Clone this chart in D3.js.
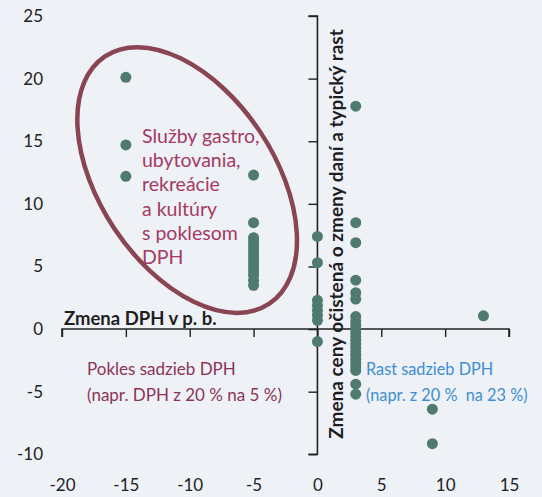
<!DOCTYPE html>
<meta charset="utf-8">
<html>
<script src="https://d3js.org/d3.v7.min.js"></script>
<style>
    body { margin: 0; background-color: #eef1f6; }
    svg text { font-family: "Lato", "Open Sans", sans-serif; }
</style>
<body>
<svg id="chart"></svg>
<script>
    // ---------------- data ----------------
    const xTicks = [-20, -15, -10, -5, 0, 5, 10, 15];
    const yTicks = [-10, -5, 0, 5, 10, 15, 20, 25];

    // VAT change (p.p.) for each column of dots
    const vatChange = [-15, -5, 0, 3, 9, 13];
    // price change for each column
    const ptsM15 = [20.1, 14.7, 12.2];
    const ptsM5 = [12.3, 8.5, 7.3, 7.0, 6.7, 6.4, 6.1, 5.8, 5.5, 5.2, 4.9, 4.6, 4.3, 3.9, 3.5];
    const pts0 = [7.4, 5.3, 2.3, 1.9, 1.5, 1.1, 0.7, -1.0];
    const pts3 = [17.8, 8.5, 6.9, 3.9, 2.9, 2.4, 1.0, 0.6, 0.3, 0.0, -0.3, -0.6, -0.9, -1.2,
                  -1.5, -1.8, -2.1, -2.4, -2.7, -3.0, -3.3, -4.4, -5.2];
    const pts9 = [-6.4, -9.15];
    const pts13 = [1.06];
    const priceChange = [ptsM15, ptsM5, pts0, pts3, pts9, pts13];

    const xTitle = "Zmena DPH v p. b.";
    const yTitle = "Zmena ceny očistená o zmeny daní a typický rast";
    const groupLabel = ["Služby gastro,", "ubytovania,", "rekreácie", "a kultúry", "s poklesom", "DPH"];
    const downLabel = ["Pokles sadzieb DPH", "(napr. DPH z 20 % na 5 %)"];
    const upLabel = ["Rast sadzieb DPH", "(napr. z 20 %  na 23 %)"];

    // flatten to points
    let points = [];
    vatChange.forEach((v, i) => priceChange[i].forEach(p => points.push({ x: v, y: p })));

    //dimensions
    let width = 542, height = 497;

    let svg = d3.select("#chart")
        .attr("width", width)
        .attr("height", height);

    svg.append("rect").attr("width", width).attr("height", height).attr("fill", "#eef1f6");

    let x = d3.scaleLinear().domain([-20, 15]).range([62, 509]);
    let y = d3.scaleLinear().domain([-10, 25]).range([454.3, 16]);

    // ellipse round the hospitality group
    svg.append("g")
        .attr("transform", `translate(${x(-10.2)},${y(11.9)}) rotate(56.4)`)
        .append("ellipse")
            .attr("rx", 148.5)
            .attr("ry", 87.5)
            .attr("fill", "none")
            .attr("stroke", "#8a4553")
            .attr("stroke-width", 4.5);

    // x axis through zero (ticks pointing down)
    let gx = svg.append("g")
        .attr("transform", `translate(0,${y(0)})`)
        .call(d3.axisBottom(x).tickValues(xTicks).tickSize(8).tickFormat(""));
    // y axis through zero (ticks pointing left)
    let gy = svg.append("g")
        .attr("transform", `translate(${x(0)},0)`)
        .call(d3.axisLeft(y).tickValues(yTicks).tickSize(9).tickFormat(""));
    [gx, gy].forEach(g => {
        g.selectAll("path.domain").attr("stroke", "#222").attr("stroke-width", 1.6);
        g.selectAll(".tick line").attr("stroke", "#222").attr("stroke-width", 1.4);
    });
    gx.select("path.domain").attr("d", `M${x(-20)},8V0H${x(15)}V8`);
    gy.select("path.domain").attr("d", `M-9,${y(25)}H0V${y(-10)}H-9`);

    // tick labels at the chart edges (plain hyphen for minus)
    let lx = svg.append("g")
        .attr("transform", "translate(0,479)")
        .call(d3.axisBottom(x).tickValues(xTicks).tickSize(0).tickPadding(0).tickFormat(d => String(d)));
    let ly = svg.append("g")
        .attr("transform", "translate(43,0)")
        .call(d3.axisLeft(y).tickValues(yTicks).tickSize(0).tickPadding(0).tickFormat(d => String(d)));
    [lx, ly].forEach(g => {
        g.select("path.domain").remove();
        g.selectAll("text")
            .attr("fill", "#222")
            .style("font-size", "17px")
            .style("font-family", "Lato, sans-serif");
    });

    // dots
    svg.append("g")
        .selectAll("circle")
        .data(points)
        .enter()
        .append("circle")
            .attr("cx", d => x(d.x))
            .attr("cy", d => y(d.y))
            .attr("r", 5.5)
            .attr("fill", "#4e7a70");

    // axis titles
    svg.append("text")
        .attr("x", 64)
        .attr("y", 325)
        .attr("fill", "#1e1e1e")
        .style("font-size", "18.5px")
        .style("font-weight", "700")
        .text(xTitle);

    svg.append("text")
        .attr("transform", `translate(343,234) rotate(-90)`)
        .attr("text-anchor", "middle")
        .attr("fill", "#1e1e1e")
        .style("font-size", "19px")
        .style("font-weight", "700")
        .text(yTitle);

    // annotations
    svg.append("g").selectAll("text")
        .data(groupLabel)
        .enter()
        .append("text")
            .attr("x", 142)
            .attr("y", (d, i) => 143 + i * 24.2)
            .attr("fill", "#a53a63")
            .style("font-size", "19.5px")
            .text(d => d);

    svg.append("g").selectAll("text")
        .data(downLabel)
        .enter()
        .append("text")
            .attr("x", 87)
            .attr("y", (d, i) => 375 + i * 25.5)
            .attr("fill", "#8c3358")
            .style("font-size", "17px")
            .text(d => d);

    svg.append("g").selectAll("text")
        .data(upLabel)
        .enter()
        .append("text")
            .attr("x", 366)
            .attr("y", (d, i) => 375 + i * 25.5)
            .attr("fill", "#3d8fd1")
            .style("font-size", "16.3px")
            .style("white-space", "pre")
            .text(d => d);
</script>
</body>
</html>
